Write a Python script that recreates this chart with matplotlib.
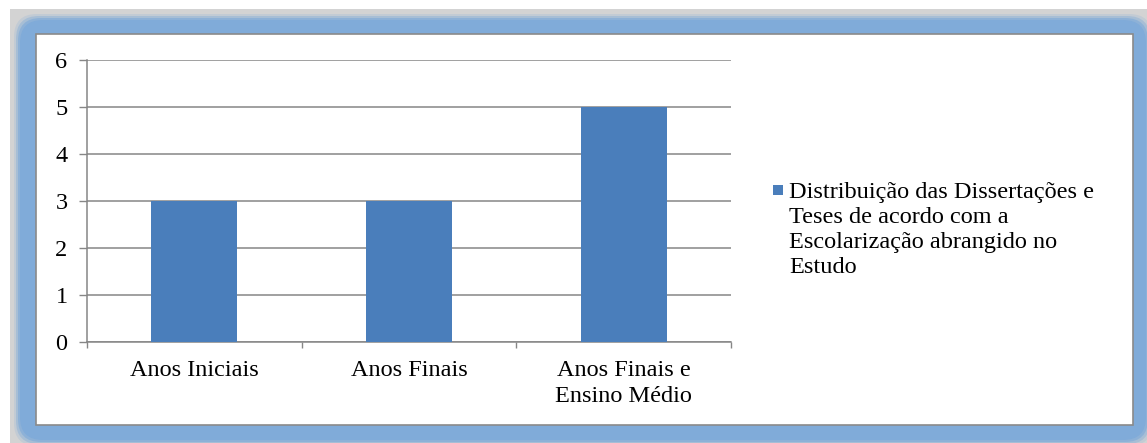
import matplotlib.pyplot as plt
from matplotlib.patches import Rectangle, FancyBboxPatch
import numpy as np

categories = ["Anos Iniciais", "Anos Finais", "Anos Finais e\nEnsino Médio"]
values = [3, 3, 5]
series_name = ("Distribuição das Dissertações e\nTeses de acordo com a\n"
               "Escolarização abrangido no\nEstudo")

W, H = 1147, 443
BAR = "#4a7ebb"
GRID = "#868686"
FONT = "Liberation Serif"
FS = 17.5

plt.rcParams["font.family"] = [FONT, "DejaVu Serif"]

fig = plt.figure(figsize=(W / 100, H / 100), dpi=100)
fig.patch.set_facecolor("white")


def px(x, y):
    # pixel (top-left origin) -> figure fraction
    return x / W, 1 - y / H


def box(x0, y0, x1, y1, **kw):
    (a, b), (c, d) = px(x0, y1), px(x1, y0)
    return Rectangle((a, b), c - a, d - b, transform=fig.transFigure, **kw)


# grey page behind the chart frame
fig.patches.append(box(10, 9, W, H, facecolor="#d3d3d3", edgecolor="none",
                       zorder=-3))
# soft blue glow frame
for i, al in enumerate([0.2, 0.4, 0.65, 1.0]):
    g = 6 - 2 * i
    (a, b), (c, d) = px(20 - g, 440 + g), px(W - 1 + g, 20 - g)
    fig.patches.append(FancyBboxPatch(
        (a, b), c - a, d - b, boxstyle="round,pad=0,rounding_size=0.02",
        transform=fig.transFigure, facecolor="#80abd9", edgecolor="none",
        alpha=al, mutation_aspect=W / H, zorder=-2))
# white chart area
fig.patches.append(box(36, 34, 1133, 425, facecolor="white",
                       edgecolor="#8a8a8a", linewidth=1.2, zorder=-1))

l, b = px(87, 342)
r, t = px(731, 60)
ax = fig.add_axes([l, b, r - l, t - b])
ax.set_facecolor("none")
ax.set_zorder(5)

x = np.arange(len(categories))
ax.bar(x, values, width=0.4, color=BAR, zorder=3)

ax.set_xlim(-0.5, len(categories) - 0.5)
ax.set_ylim(0, 6)
ax.set_yticks(range(0, 7))
ax.grid(axis="y", color=GRID, linewidth=1.1, zorder=0)
ax.tick_params(axis="y", length=6, width=1, color=GRID, pad=8, labelsize=FS)

ax.set_xticks(x)
ax.set_xticklabels(categories, fontsize=FS, linespacing=1.3)
ax.tick_params(axis="x", which="major", length=0, pad=13)
ax.set_xticks(np.arange(-0.5, len(categories)), minor=True)
ax.tick_params(axis="x", which="minor", length=4, width=1, color=GRID)

for s in ["top", "right"]:
    ax.spines[s].set_visible(False)
for s in ["left", "bottom"]:
    ax.spines[s].set_color(GRID)
    ax.spines[s].set_linewidth(1.1)

# legend: square marker aligned with the first text line
sx, sy = px(773, 195)
fig.patches.append(Rectangle((sx, sy), 10 / W, 10 / H, transform=fig.transFigure,
                             facecolor=BAR, edgecolor="none", zorder=2))
tx, ty = px(789, 182)
fig.text(tx, ty, series_name, fontsize=FS, va="top", ha="left",
         linespacing=1.25)

fig.savefig("out.png", dpi=100)
